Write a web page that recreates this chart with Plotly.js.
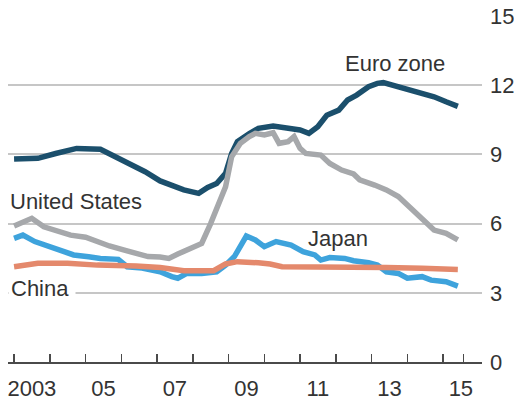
<!DOCTYPE html>
<html>
<head>
<meta charset="utf-8">
<script src="https://cdn.plot.ly/plotly-3.0.1.min.js"></script>
<style>
html,body{margin:0;padding:0;background:#fff;}
#chart{width:514px;height:401px;}
</style>
</head>
<body>
<div id="chart"></div>
<script>
// ---- data (unemployment rate, %) ----
const euroDates = ["2003-01","2003-09","2004-03","2004-10","2005-06","2005-10","2006-04","2006-09","2007-02","2007-06","2007-10","2008-03","2008-06","2008-09","2008-12","2009-02","2009-04","2009-08","2009-11","2010-04","2010-09","2011-01","2011-04","2011-07","2011-10","2012-02","2012-05","2012-08","2012-12","2013-03","2013-05","2013-09","2013-12","2014-04","2014-08","2014-10","2015-02","2015-06"];
const euroVals = [8.80,8.83,9.04,9.26,9.22,8.97,8.61,8.25,7.85,7.63,7.46,7.31,7.57,7.74,8.18,9.04,9.55,9.90,10.13,10.23,10.13,10.06,9.91,10.20,10.70,10.92,11.36,11.57,11.93,12.08,12.11,11.96,11.86,11.72,11.57,11.50,11.28,11.08];

const usDates = ["2003-01","2003-07","2003-11","2004-04","2004-08","2005-01","2005-05","2005-09","2006-02","2006-06","2006-10","2007-02","2007-05","2007-08","2008-01","2008-04","2008-07","2008-09","2008-12","2009-02","2009-05","2009-08","2009-10","2010-01","2010-04","2010-06","2010-09","2010-11","2011-01","2011-03","2011-08","2011-11","2012-03","2012-07","2012-09","2013-02","2013-06","2013-10","2014-01","2014-04","2014-07","2014-10","2015-02","2015-06"];
const usVals = [5.90,6.23,5.86,5.69,5.50,5.41,5.22,5.03,4.85,4.72,4.57,4.55,4.49,4.68,5.00,5.14,6.00,6.59,7.60,8.90,9.48,9.77,9.91,9.84,9.94,9.48,9.55,9.77,9.26,9.04,8.97,8.61,8.32,8.15,7.90,7.67,7.46,7.17,6.81,6.45,6.08,5.72,5.58,5.29];

const japanDates = ["2003-01","2003-04","2003-08","2003-12","2004-05","2004-09","2005-02","2005-06","2005-12","2006-03","2006-08","2007-02","2007-06","2007-08","2007-11","2008-04","2008-09","2008-12","2009-03","2009-07","2009-10","2010-01","2010-05","2010-10","2011-02","2011-06","2011-08","2011-11","2012-04","2012-07","2012-12","2013-03","2013-06","2013-10","2014-01","2014-06","2014-09","2015-02","2015-06"];
const japanVals = [5.36,5.50,5.22,5.03,4.85,4.64,4.56,4.49,4.45,4.13,4.07,3.91,3.70,3.63,3.84,3.84,3.91,4.20,4.57,5.46,5.29,5.00,5.22,5.07,4.78,4.64,4.42,4.53,4.49,4.39,4.30,4.20,3.91,3.84,3.63,3.70,3.55,3.48,3.29];

const chinaDates = ["2003-01","2003-09","2004-07","2005-05","2006-06","2007-02","2007-10","2008-08","2008-12","2009-04","2009-11","2010-03","2010-07","2011-08","2013-06","2014-06","2015-06"];
const chinaVals = [4.13,4.28,4.28,4.20,4.16,4.10,3.96,3.96,4.25,4.35,4.30,4.25,4.13,4.13,4.10,4.06,4.01];

const tickYears = [2003,2004,2005,2006,2007,2008,2009,2010,2011,2012,2013,2014,2015];
const labelYears = [2003,2005,2007,2009,2011,2013,2015];
const labelText = ["2003","05","07","09","11","13","15"];
const yTicks = [0,3,6,9,12,15];

const FONT = "'Liberation Sans', Arial, sans-serif";
const TXT = "#333333";

function line(x, y, color, name){
  return {x:x, y:y, name:name, type:'scatter', mode:'lines',
          line:{color:color, width:5.5, shape:'linear'}, hoverinfo:'skip'};
}

const traces = [
  line(japanDates, japanVals, '#3ea3dc', 'Japan'),
  line(chinaDates, chinaVals, '#e4896c', 'China'),
  line(euroDates, euroVals, '#1b4f6c', 'Euro zone'),
  line(usDates, usVals, '#a6a8ab', 'United States')
];

const minorTicks = tickYears.map(y => y + '-01-01').concat(['2015-07-27']);

const layout = {
  width:514, height:401,
  margin:{l:8, r:32, t:16, b:39, pad:0},
  paper_bgcolor:'#fff', plot_bgcolor:'#fff',
  showlegend:false,
  font:{family:FONT, size:22, color:TXT},
  xaxis:{
    type:'date',
    range:['2002-10-31','2016-02-03'],
    tickmode:'array',
    tickvals: labelYears.map(y => y + '-07-02'),
    ticktext: labelText,
    ticks:'', showgrid:false, zeroline:false,
    showline:true, linecolor:'#4a4a4a', linewidth:2,
    ticklabelstandoff:6,
    tickfont:{family:FONT, size:22, color:TXT},
    minor:{tickmode:'array', tickvals:minorTicks, ticks:'inside', ticklen:8, tickwidth:1.5, tickcolor:'#4a4a4a', showgrid:false},
    fixedrange:true
  },
  yaxis:{
    side:'right',
    range:[0,15],
    tickmode:'array', tickvals:yTicks,
    ticks:'', showline:false, zeroline:false,
    showgrid:true, gridcolor:'#c6c6c6', gridwidth:2,
    ticklabelstandoff:7,
    tickfont:{family:FONT, size:22, color:TXT},
    fixedrange:true
  },
  annotations:[
    {text:'Euro zone', xref:'paper', yref:'y', x:0.8165, y:12.94, xanchor:'center', yanchor:'middle', showarrow:false, font:{family:FONT,size:22,color:TXT}},
    {text:'United States', xref:'paper', yref:'y', x:0.0, y:6.95, xanchor:'left', yanchor:'middle', showarrow:false, font:{family:FONT,size:22,color:TXT}},
    {text:'Japan', xref:'paper', yref:'y', x:0.628, y:5.37, xanchor:'left', yanchor:'middle', showarrow:false, font:{family:FONT,size:22,color:TXT}},
    {text:'China', xref:'paper', yref:'y', x:0.0, y:3.19, xanchor:'left', yanchor:'middle', showarrow:false, bgcolor:'#ffffff', borderpad:2, width:62, align:'left', font:{family:FONT,size:22,color:TXT}}
  ]
};

Plotly.newPlot('chart', traces, layout, {staticPlot:true, displayModeBar:false});
</script>
</body>
</html>
